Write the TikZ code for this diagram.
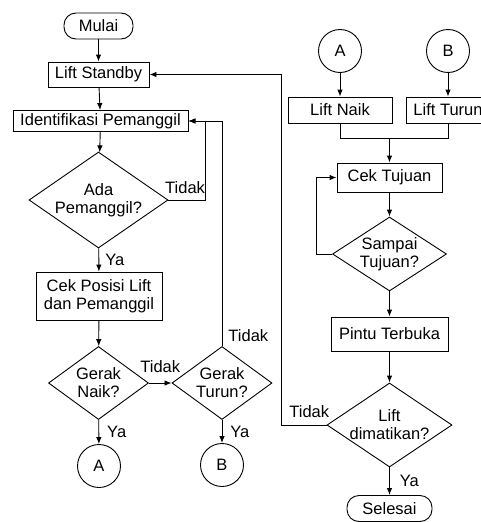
\documentclass[tikz,border=0pt]{standalone}
\usepackage{fontspec}
\setmainfont{Liberation Sans}
\usetikzlibrary{arrows.meta, positioning, shapes.geometric}

\begin{document}
\begin{tikzpicture}[x=1pt, y=-1pt, line width=0.9pt,
    font=\fontsize{16.5}{18}\selectfont,
    proses/.style={draw, rectangle, inner sep=0pt, align=center},
    terminal/.style={draw, rectangle, rounded corners=12pt, inner sep=0pt, minimum height=26pt},
    keputusan/.style={draw, diamond, inner sep=0pt, align=center},
    konektor/.style={draw, circle, inner sep=0pt, minimum size=43pt},
    lbl/.style={inner sep=2pt},
    panah/.style={-{Latex[length=7pt, width=5.5pt]}}]
    \useasboundingbox (0,0) rectangle (481,522);

    % Kolom kiri
    \node[terminal, minimum width=69pt] (mulai) at (98.5,26) {Mulai};
    \node[proses, minimum width=101pt, minimum height=25pt] (standby) at (98.5,74.5) {Lift Standby};
    \node[proses, minimum width=175pt, minimum height=21pt] (ident) at (100.5,121) {Identifikasi Pemanggil};
    \node[keputusan, minimum width=139pt, minimum height=96pt, shape aspect=1.45] (ada) at (98.5,200) {Ada\\Pemanggil?};
    \node[proses, minimum width=126pt, minimum height=48pt] (cekpos) at (99,296) {Cek Posisi Lift\\dan Pemanggil};
    \node[keputusan, minimum width=100pt, minimum height=73pt, shape aspect=1.37] (naik) at (98.5,383) {Gerak\\Naik?};
    \node[keputusan, minimum width=100pt, minimum height=73pt, shape aspect=1.37] (turun) at (222,383) {Gerak\\Turun?};
    \node[konektor] (kA) at (99,466) {A};
    \node[konektor] (kB) at (222,465) {B};

    \draw[panah] (mulai) -- (standby);
    \draw[panah] (standby) -- (ident);
    \draw[panah] (ident) -- (ada);
    \draw[panah] (ada) -- (cekpos) node[lbl, midway, right=4pt] {Ya};
    \draw[panah] (ada.east) -- ++(37,0) node[lbl, pos=0.45, above=4pt] {Tidak} |- (ident.east);
    \draw[panah] (cekpos) -- (naik);
    \draw[panah] (naik) -- (turun) node[lbl, midway, above=8pt] {Tidak};
    \draw[panah] (naik) -- (kA) node[lbl, midway, right=6pt] {Ya};
    \draw[panah] (turun) -- (kB) node[lbl, midway, right=6pt] {Ya};
    \draw[panah] (turun.north) node[lbl, above right, xshift=4pt, yshift=2pt] {Tidak} |- (ident.east);

    % Kolom kanan
    \node[konektor] (kA2) at (340,51) {A};
    \node[konektor] (kB2) at (448,51) {B};
    \node[proses, minimum width=104pt, minimum height=26pt] (liftnaik) at (340,110) {Lift Naik};
    \node[proses, minimum width=84pt, minimum height=26pt] (liftturun) at (448,110) {Lift Turun};
    \coordinate (gabung) at (389.5,138);
    \node[proses, minimum width=105pt, minimum height=29pt] (cektujuan) at (389.5,177.5) {Cek Tujuan};
    \node[keputusan, minimum width=114pt, minimum height=74pt, shape aspect=1.54] (sampai) at (389.5,254) {Sampai\\Tujuan?};
    \node[proses, minimum width=117pt, minimum height=34pt] (pintu) at (389.5,334) {Pintu Terbuka};
    \node[keputusan, minimum width=125pt, minimum height=84pt, shape aspect=1.49] (mati) at (389.5,425) {Lift\\dimatikan?};
    \node[terminal, minimum width=85pt] (selesai) at (389.5,508.5) {Selesai};

    \draw[panah] (kA2) -- (liftnaik);
    \draw[panah] (kB2) -- (liftturun);
    \draw (liftnaik.south) |- (gabung);
    \draw (liftturun.south) |- (gabung);
    \draw[panah] (gabung) -- (cektujuan);
    \draw[panah] (cektujuan) -- (sampai);
    \draw[panah] (sampai.west) -- ++(-16,0) |- (cektujuan.west);
    \draw[panah] (sampai) -- (pintu);
    \draw[panah] (pintu) -- (mati);
    \draw[panah] (mati) -- (selesai) node[lbl, midway, right=8pt] {Ya};
    \draw[panah] (mati.west) node[lbl, above left, xshift=5pt, yshift=5pt] {Tidak} -- ++(-45,0) |- (standby.east);
\end{tikzpicture}
\end{document}
